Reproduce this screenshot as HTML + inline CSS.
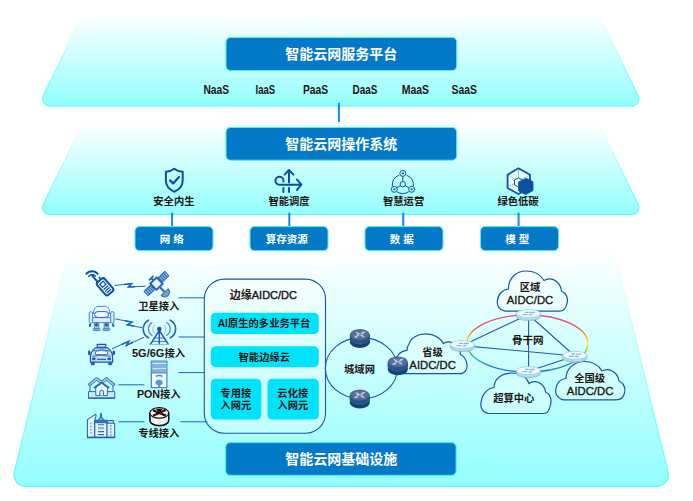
<!DOCTYPE html>
<html lang="zh"><head><meta charset="utf-8"><title>智能云网</title>
<style>
html,body{margin:0;padding:0;background:#fff;}
svg{display:block;}
text{font-family:"Liberation Sans","Noto Sans CJK SC",sans-serif;font-weight:bold;}
.t{fill:#fff;font-size:14px;text-anchor:middle;}
.l{fill:#1d1714;font-size:10.3px;text-anchor:middle;}
.s{fill:#fff;font-size:10.5px;text-anchor:middle;}
.e{fill:#1d1714;font-size:11px;text-anchor:middle;}
.c{fill:#1d1714;font-size:10.3px;text-anchor:middle;}
.a{fill:#1d1714;font-size:11.3px;text-anchor:middle;font-weight:normal;stroke:#1d1714;stroke-width:0.35px;}
</style></head><body>
<svg width="693" height="501" viewBox="0 0 693 501">
<defs>
<linearGradient id="g1" x1="0" y1="0" x2="0" y2="1"><stop offset="0" stop-color="#ffffff"/><stop offset="1" stop-color="#93fefe"/></linearGradient>
<linearGradient id="s1" x1="0" y1="0" x2="0" y2="1"><stop offset="0" stop-color="#ffffff"/><stop offset="0.5" stop-color="#a0ffff"/><stop offset="1" stop-color="#52fcfc"/></linearGradient>
<linearGradient id="rb" x1="0" y1="315" x2="0" y2="372" gradientUnits="userSpaceOnUse">
<stop offset="0" stop-color="#ef4f9f"/><stop offset="0.12" stop-color="#f5457a"/><stop offset="0.22" stop-color="#ff4a40"/><stop offset="0.33" stop-color="#ff9010"/><stop offset="0.5" stop-color="#ffee00"/><stop offset="0.6" stop-color="#a0d820"/><stop offset="0.66" stop-color="#38c058"/><stop offset="0.77" stop-color="#18b4c4"/><stop offset="0.88" stop-color="#2a80d8"/><stop offset="1" stop-color="#2a70cc"/></linearGradient>
<radialGradient id="drt" cx="0.5" cy="0.45" r="0.6"><stop offset="0" stop-color="#6e86ab"/><stop offset="1" stop-color="#465d86"/></radialGradient>
<g id="dr">
<path d="M-10 0 v7.6 a10 5.6 0 0 0 20 0 v-7.6z" fill="#19416f"/>
<path d="M-10 0 v3.4 a10 5.6 0 0 0 20 0 v-3.4z" fill="#24548a"/>
<path d="M-10 3.4 a10 5.6 0 0 0 20 0" fill="none" stroke="#41709f" stroke-width="0.6"/>
<ellipse cx="0" cy="0" rx="10" ry="5.6" fill="url(#drt)"/>
<path d="M-5 2.4 L-1.4 0.4 M1 -0.5 L4.8 -2.6 M-3.6 -2.4 L-0.8 -0.8 M1.4 0.8 L4 2.2 M-5 2.4 l2.2 -0.1 M4.8 -2.6 l-2.2 0.1 M-0.8 -0.8 l-1.5 0 M1.4 0.8 l1.5 0" stroke="#e4ebf4" stroke-width="1.1" fill="none" stroke-linecap="round" opacity="0.75"/>
</g>
<g id="lr">
<path d="M-12.1 0 v2.9 a12.1 4 0 0 0 24.2 0 v-2.9z" fill="#b4dcee" stroke="#74b6d8" stroke-width="0.7"/>
<ellipse cx="0" cy="0" rx="12.1" ry="4" fill="#f4fcff" stroke="#8cc6e2" stroke-width="0.7"/>
<path d="M-5.6 1 h4.2 M1.6 -1.1 h4.2 M-3 -1.3 h2.8 M0.6 1.2 h2.8" stroke="#7fbadc" stroke-width="1.3" fill="none" stroke-linecap="round"/>
</g>
</defs>

<path d="M83.00 14.00 L598.40 14.00 L638.11 95.74 A7 7 0 0 1 631.82 105.80 L49.58 105.80 A7 7 0 0 1 43.29 95.74 Z" fill="url(#g1)" stroke="url(#s1)" stroke-width="1.2"/>
<path d="M83.00 122.70 L598.40 122.70 L638.11 204.44 A7 7 0 0 1 631.82 214.50 L49.58 214.50 A7 7 0 0 1 43.29 204.44 Z" fill="url(#g1)" stroke="url(#s1)" stroke-width="1.2"/>
<path d="M69.10 248.00 L613.20 248.00 L668.11 472.06 A11.5 11.5 0 0 1 656.94 486.30 L25.45 486.30 A11.5 11.5 0 0 1 14.28 472.07 Z" fill="url(#g1)" stroke="url(#s1)" stroke-width="1.2"/>
<g stroke="#0a8cf0" stroke-width="2" fill="none">
<path d="M338.9 102.8V122 M172.1 212.8V226.4 M289.3 212.8V226.4 M403.2 212.8V226.4 M518.6 212.8V226.4"/>
</g>
<rect x="226" y="37.5" width="230.7" height="33" rx="4.5" fill="#0479c8" stroke="#48f0fa" stroke-width="1"/>
<text class="t" x="341.3" y="59.4">智能云网服务平台</text>
<rect x="226" y="127.5" width="230.7" height="32.7" rx="4.5" fill="#0479c8" stroke="#48f0fa" stroke-width="1"/>
<text class="t" x="341.3" y="149.2">智能云网操作系统</text>
<rect x="225.7" y="442.6" width="230.4" height="32.7" rx="4.5" fill="#0479c8" stroke="#48f0fa" stroke-width="1"/>
<text class="t" x="341.2" y="464.1">智能云网基础设施</text>
<text x="203.4" y="93.5" textLength="25.6" lengthAdjust="spacingAndGlyphs" style="fill:#1d1714;font-size:12.3px;text-anchor:start">NaaS</text>
<text x="255.6" y="93.5" textLength="19.6" lengthAdjust="spacingAndGlyphs" style="fill:#1d1714;font-size:12.3px;text-anchor:start">IaaS</text>
<text x="303" y="93.5" textLength="25.2" lengthAdjust="spacingAndGlyphs" style="fill:#1d1714;font-size:12.3px;text-anchor:start">PaaS</text>
<text x="352.6" y="93.5" textLength="24.9" lengthAdjust="spacingAndGlyphs" style="fill:#1d1714;font-size:12.3px;text-anchor:start">DaaS</text>
<text x="401.7" y="93.5" textLength="27.4" lengthAdjust="spacingAndGlyphs" style="fill:#1d1714;font-size:12.3px;text-anchor:start">MaaS</text>
<text x="451.6" y="93.5" textLength="25.4" lengthAdjust="spacingAndGlyphs" style="fill:#1d1714;font-size:12.3px;text-anchor:start">SaaS</text>
<rect x="135" y="226.6" width="78" height="24" rx="4.5" fill="#0479c8" stroke="#48f0fa" stroke-width="1"/>
<text class="s" x="171.7" y="242.5">网 络</text>
<rect x="250" y="226.6" width="78" height="24" rx="4.5" fill="#0479c8" stroke="#48f0fa" stroke-width="1"/>
<text class="s" x="286.7" y="242.5">算存资源</text>
<rect x="365" y="226.6" width="78" height="24" rx="4.5" fill="#0479c8" stroke="#48f0fa" stroke-width="1"/>
<text class="s" x="401.7" y="242.5">数 据</text>
<rect x="480.5" y="226.6" width="78" height="24" rx="4.5" fill="#0479c8" stroke="#48f0fa" stroke-width="1"/>
<text class="s" x="517.2" y="242.5">模 型</text>
<text class="l" x="173.9" y="204.8">安全内生</text>
<text class="l" x="289" y="204.8">智能调度</text>
<text class="l" x="403.6" y="204.8">智慧运营</text>
<text class="l" x="518" y="204.8">绿色低碳</text>
<g fill="none" stroke="#0d4fa3" stroke-width="2" stroke-linejoin="round" stroke-linecap="round">
<path d="M174.3 168.8 Q170.5 171.8 165.9 171.8 V180.5 Q165.9 188 174.3 191.8 Q182.7 188 182.7 180.5 V171.8 Q178.1 171.8 174.3 168.8Z"/>
<path d="M170 180.4 l3.2 3 l5.8 -6.4" stroke-width="2.2"/>
<path d="M289 182.6 V170.2 M284.6 174.6 L289 170 L293.4 174.6"/>
<path d="M297 179.6 L301.4 184.7 L297 189.9 M301 184.7 H279.5 A4 4 0 1 1 283.5 180.7 V181.6"/>
<path d="M283.4 188 V192 M289 188 V192"/>
</g>
<g fill="none" stroke="#0d4fa3" stroke-width="1">
<circle cx="402.8" cy="184.2" r="2.7"/>
<circle cx="402.8" cy="173.4" r="3"/><circle cx="394.3" cy="189.3" r="3"/><circle cx="411.6" cy="189.3" r="3"/>
<path d="M402.8 176.4 V181.5 M400.4 185.6 L396.9 187.7 M405.2 185.6 L408.7 187.7"/>
<path d="M399 175.2 A10.8 10.8 0 0 0 392.3 186 M406.6 175.2 A10.8 10.8 0 0 1 413.4 186 M397 191.8 A10.8 10.8 0 0 0 408.6 191.8"/>
</g>
<g fill="#0d4fa3"><circle cx="402.8" cy="173.4" r="1.1"/><circle cx="394.3" cy="189.3" r="1.1"/><circle cx="411.6" cy="189.3" r="1.1"/></g>
<g stroke="#0d4fa3" stroke-linejoin="round">
<path d="M518.4 168.3 L530 174.8 V188 L518.4 194 L507.6 188 V174.8Z" fill="#e6ffff" stroke-width="1.8"/>
<path d="M507.6 174.8 L518.4 181 L530 174.8" fill="none" stroke-width="0.5" opacity="0.5"/>
<path d="M518.4 170.5 V177" fill="none" stroke-width="0.8" stroke-dasharray="1 1"/>
<path d="M510 186.2 L514 184" fill="none" stroke-width="0.8" stroke-dasharray="1 1"/>
<path d="M514.5 180 L518.4 177.8 L522.4 180 V185 L518.4 187.2 L514.5 185Z" fill="#e6ffff" stroke-width="1"/>
<path d="M518.6 182 L526 178.2 L533 181.8 V190.6 L525.6 194.6 L518.6 191Z" fill="#0d4fa3" stroke-width="0.8"/>
</g>
<g stroke="#1f66b0" stroke-width="1" fill="none">
<path d="M178.5 297.8H204.5 M178.5 337H204.5 M178.5 372.6H204.5 M180.5 421.8H207.5"/>
<path d="M118.4 384.8H144.4 M118.4 421.8H144.4"/>
<path d="M114.4 285.4 L131.6 283.8 L128.4 287 L145.5 286.2"/>
<path d="M115.2 318.9 L132 322.1 L127.2 324.8 L142.3 327.7"/>
<path d="M112 348.8 L128.8 341.3 L126.4 345.3 L144 337.3"/>
<path d="M124 284.5 L131.6 283.8 L128.4 287 L135 286.7 M125 320.8 L132 322.1 L127.2 324.8 L134 326.1 M122 344.3 L128.8 341.3 L126.4 345.3 L133 342.3" stroke-width="1.5" stroke-linejoin="miter"/>
</g>
<g fill="none" stroke="#0d4fa3" stroke-linecap="round" stroke-linejoin="round">
<g transform="translate(104.9 286.6) rotate(-41)">
<rect x="-4.9" y="-8" width="9.8" height="16.6" rx="2.2" stroke-width="2" fill="#e8ffff"/>
<rect x="-2.3" y="-5.2" width="4.6" height="4.2" stroke-width="1.3"/>
<path d="M-2.5 1.4H2.5 M-2.5 3.7H2.5 M-2.5 6H2.5" stroke-width="1.2"/>
<path d="M-2.4 -8.4 V-16.4" stroke-width="2"/>
<path d="M1.8 -8.4 V-10.6" stroke-width="1.6"/>
</g>
<path d="M86.4 273.8 A7.2 7.2 0 0 1 97.6 273.8" stroke-width="2"/>
<path d="M88.9 276.3 A4.4 4.4 0 0 1 95.3 276" stroke-width="1.6"/>
</g>
<g transform="translate(156.5 283.6) rotate(-44)" stroke="#2c68b8" stroke-width="1" fill="#cfe4f6" stroke-linejoin="round">
<rect x="-14.4" y="-3" width="8.6" height="6" fill="#a8c8ea"/>
<rect x="5.8" y="-3" width="8.6" height="6" fill="#a8c8ea"/>
<path d="M-12.2 -3V3 M-10 -3V3 M-7.8 -3V3 M7.8 -3V3 M10 -3V3 M12.2 -3V3" fill="none" stroke-width="1.2"/>
<rect x="-4.4" y="-4.4" width="8.8" height="8.8" fill="#e6f6fd" stroke-width="1.9" stroke="#2460b0"/>
<path d="M-5.8 0H-4.4 M4.4 0H5.8" fill="none" stroke-width="2"/>
<path d="M0 -4.4V-7.4 M-3.2 -7.6 H3.2" stroke-width="1.7" fill="none" stroke="#2460b0"/>
<path d="M0 4.4V11.6" stroke-width="2.2" fill="none"/>
<path d="M-4.8 11.8 A4.8 4.8 0 0 0 4.8 11.8 Z" fill="#5a8fd0" stroke-width="1"/>
<path d="M-2.4 12V15.6 M0 12V16.4 M2.4 12V15.6" stroke="#cfe4f6" stroke-width="0.6" fill="none"/>
</g>
<g stroke="#4a86cc" stroke-width="1" fill="#d4ecf8" stroke-linejoin="round">
<path d="M93.4 313.5 C93.4 309 96 306.3 98 306.3 H105.2 C107.2 306.3 109.9 309 109.9 313.5 Z" fill="#e4f6fc"/>
<rect x="89.2" y="311.8" width="3.4" height="11.4" rx="1"/>
<rect x="110.6" y="311.8" width="3.4" height="11.4" rx="1"/>
<rect x="92.6" y="317.6" width="18" height="5" fill="#dceef8"/>
<rect x="94.6" y="311.6" width="14" height="5.8" rx="2.9" fill="#dcecf8" stroke="#2c68b8" stroke-width="1"/>
<rect x="98.4" y="312.6" width="6.4" height="3.8" fill="#fbffff" stroke="none"/>
<ellipse cx="96.8" cy="314.5" rx="1.1" ry="0.9" fill="#fff" stroke="none"/><ellipse cx="106.4" cy="314.5" rx="1.1" ry="0.9" fill="#fff" stroke="none"/>
<rect x="94.4" y="322.6" width="4.4" height="5.6"/><rect x="104.2" y="322.6" width="4.4" height="5.6"/>
<rect x="93.2" y="328.4" width="6.8" height="2.2" rx="0.8" fill="#7fb0e0"/><rect x="103" y="328.4" width="6.8" height="2.2" rx="0.8" fill="#7fb0e0"/>
</g>
<g fill="#1f5fb8"><circle cx="96.6" cy="324.9" r="1.8"/><circle cx="106.4" cy="324.9" r="1.8"/><path d="M89 324.2 l2 -1 v3.4 l-2 0.6z M114.2 324.2 l-2 -1 v3.4 l2 0.6z"/></g>
<g stroke="#2c68b8" stroke-width="1.1" fill="#d4ecf8" stroke-linejoin="round">
<rect x="97.2" y="344.4" width="8.6" height="3" fill="#bcdcf0" stroke="#1a56aa" stroke-width="1.2"/>
<path d="M90.4 362.2 V356.4 Q90.6 352.6 92.6 350.6 L95.2 347.8 H107.8 L110.4 350.6 Q112.4 352.6 112.6 356.4 V362.2 Z" fill="#c4e0f2" stroke="#1f5cb0" stroke-width="1.2"/>
<path d="M93.2 351 Q101.5 348.4 109.8 351" fill="none" stroke-width="0.9"/>
<path d="M96 351.2 Q101.5 349.8 107 351.2 Q108 353 107.6 354.6 H95.4 Q95 353 96 351.2Z" fill="#f8feff" stroke-width="0.9"/>
<path d="M92 356.2 Q101.5 354.6 111 356.2" fill="none" stroke-width="0.9"/>
<path d="M97 359.4 H106" fill="none" stroke-width="1.3"/>
<path d="M91 362.2 h3.6 v1.8 q0 1 -1 1 h-1.6 q-1 0 -1 -1z M108.4 362.2 h3.6 v1.8 q0 1 -1 1 h-1.6 q-1 0 -1 -1z" fill="#1f5fb8" stroke-width="0.6"/>
</g>
<g fill="#1f5cb0"><ellipse cx="89.2" cy="352.8" rx="1.3" ry="2.5"/><ellipse cx="113.8" cy="352.8" rx="1.3" ry="2.5"/><ellipse cx="93.8" cy="358.8" rx="2" ry="1.4"/><ellipse cx="109.2" cy="358.8" rx="2" ry="1.4"/></g>
<g stroke="#2c68b8" stroke-width="1" fill="#d4ecf8" stroke-linejoin="round">
<path d="M90 386V392 M113 386V392" fill="none"/>
<path d="M88.6 385.6 L96.7 378.8 L101.6 382.6 L106.5 378.8 L114.6 385.6" fill="none" stroke-width="3.2" stroke="#3a76c0"/>
<path d="M89.4 385 L96.7 378.9 L101.6 382.7 L106.5 378.9 L113.8 385" fill="none" stroke-width="1.4" stroke="#a8cdec"/>
<rect x="88.5" y="391.6" width="26.2" height="6.6" fill="#cfeaf4"/>
<path d="M88.5 398.2H114.7" stroke-width="1.6" fill="none"/>
<path d="M95.8 387.4 L101.6 383.2 L107.4 387.4 V395.6 H95.8Z" fill="#eafaff"/>
<path d="M94 388 L101.6 382.6 L109.2 388" fill="none" stroke-width="1.8"/>
<path d="M99.8 395.6 V392.2 A1.9 1.9 0 0 1 103.6 392.2 V395.6" fill="#cfeaf4"/>
</g>
<g stroke="#2c68b8" stroke-width="1.1" fill="#d4ecf8" stroke-linejoin="round">
<path d="M87.4 437.4 V419.6 L95.4 414.4 L96.2 415.6 L94.6 421 V437.4Z" fill="#dff4fa"/>
<path d="M91 423V434.5" fill="none" stroke-width="0.9" stroke-dasharray="1.4 1.6"/>
<path d="M101 413.2V418" stroke-width="1.8" fill="none" stroke="#1f5cb0"/>
<path d="M97.4 420.8 L101 416.8 L104.6 420.8Z" fill="#9cc4e6"/>
<rect x="94.8" y="420.2" width="12.2" height="2.4" fill="#3a76c0"/>
<rect x="94.8" y="422.6" width="12.2" height="14.8" fill="#e4f8fc"/>
<path d="M98 424.8H104 M98 431.6H104 M98 434.6H104" fill="none" stroke-width="1.1"/>
<rect x="98" y="426.8" width="6" height="2.6" fill="#8cb8e2" stroke="none"/>
<rect x="107.6" y="420.6" width="5.8" height="2.6" fill="#dff4fa"/>
<rect x="107" y="423.2" width="7.7" height="14.2" fill="#dff4fa"/>
<path d="M110.8 425.4V436.4" fill="none" stroke-width="1.6" stroke-dasharray="1.2 1.8"/>
<path d="M87 437.5H115" stroke-width="1.5" fill="none" stroke="#1f5cb0"/>
</g>
<g stroke="#2c68b8" fill="none" stroke-linecap="round">
<path d="M159.3 330.5 L150.4 344.3 M159.3 330.5 L168.4 344.3 M159.3 329.5V344.5" stroke-width="1.5" stroke="#1f5cb0"/>
<path d="M154.6 338H164 M152.4 341.4H166.2" stroke-width="0.9"/>
<path d="M150 344.4H168.6" stroke-width="1" stroke="#8cb8e0"/>
<circle cx="159.3" cy="329" r="2.2" fill="#0d4fa3" stroke="none"/>
<path d="M148.5 320.2 A10 10 0 0 0 148.5 337.8 M170.3 320.2 A10 10 0 0 1 170.3 337.8" stroke-width="1.7" stroke="#2c66b6"/>
<path d="M152 322.7 A7.4 7.4 0 0 0 152 335.3 M166.7 322.7 A7.4 7.4 0 0 1 166.7 335.3" stroke-width="1.4" stroke="#5a90cc"/>
<path d="M154.5 324.8 A6.4 6.4 0 0 0 154.5 333.5 M164.2 324.8 A6.4 6.4 0 0 1 164.2 333.5" stroke-width="1.2" stroke="#a4cbe8"/>
</g>
<g stroke="#2c68b8" stroke-width="1">
<rect x="151.3" y="361.1" width="15.6" height="26.6" fill="#eefbff"/>
<rect x="151.8" y="361.6" width="14.6" height="11.2" fill="#80b2e2" stroke="none"/>
<path d="M152.6 363.4H166 M152.6 368.6H166" stroke="#d8eefa" stroke-width="1" fill="none"/>
<path d="M151.3 373H166.9" fill="none" stroke-width="0.8"/>
<path d="M155.8 376.4 Q159.2 374.8 162.6 376.4" fill="none" stroke="#4a86cc" stroke-width="1.5"/>
<ellipse cx="159.1" cy="382.4" rx="3.6" ry="2.6" fill="#5a94d4" stroke="none"/>
<path d="M159.1 384V387.5" stroke="#5a94d4" stroke-width="2.2" fill="none"/>
</g>
<g stroke="#111" stroke-width="1.2">
<path d="M149.9 412.9 V420.4 A9.4 5.3 0 0 0 168.7 420.4 V412.9Z" fill="#ececec"/>
<path d="M156 417.5 V425 M162.5 417.5 V425" stroke="#fff" stroke-width="3" opacity="0.7"/>
<path d="M149.9 412.9 V420.4 A9.4 5.3 0 0 0 168.7 420.4 V412.9" fill="none"/>
<ellipse cx="159.3" cy="412.9" rx="9.4" ry="5.3" fill="#fafafa"/>
<path d="M153 410.2 L165.8 415.6 M165.6 410 L153 415.8" stroke="#111" stroke-width="2.3" fill="none"/>
<path d="M155.6 408.8 L163 408.8 L159.3 412.6Z" fill="#111" stroke="none"/>
</g>
<g fill="#e01010"><circle cx="156.6" cy="411.6" r="0.8"/><circle cx="163.2" cy="410.6" r="0.8"/><circle cx="155.2" cy="414.6" r="0.8"/><circle cx="161.2" cy="413.8" r="0.8"/></g>
<rect x="204.3" y="279.1" width="121.2" height="154.2" rx="20" fill="#ffffff" fill-opacity="0.25" stroke="#1a55a4" stroke-width="1.1"/>
<text class="e" x="263.4" y="298.6">边缘<tspan style="font-weight:normal;stroke:#1d1714;stroke-width:0.4px">AIDC/DC</tspan></text>
<rect x="210.8" y="312.8" width="108" height="21.3" rx="5" fill="#00e4fb"/>
<text class="c" x="264" y="327.4">AI原生的多业务平台</text>
<rect x="210.8" y="346.2" width="108" height="21" rx="5" fill="#00e4fb"/>
<text class="c" x="264.3" y="360.6">智能边缘云</text>
<rect x="210.8" y="378.8" width="50.5" height="40.8" rx="5" fill="#00e4fb"/>
<rect x="267.5" y="378.8" width="51.3" height="40.8" rx="5" fill="#00e4fb"/>
<text class="c" x="235.8" y="397">专用接</text><text class="c" x="235.8" y="408.8">入网元</text>
<text class="c" x="292.8" y="397">云化接</text><text class="c" x="292.8" y="408.8">入网元</text>
<text class="l" x="158.8" y="310.2">卫星接入</text>
<text class="l" x="158.5" y="357.2"><tspan style="font-size:11px">5G/6G</tspan>接入</text>
<text class="l" x="158.8" y="398.2"><tspan style="font-size:10.7px">PON</tspan>接入</text>
<text class="l" x="158.8" y="437">专线接入</text>
<ellipse cx="361.4" cy="368.2" rx="36.1" ry="30.6" fill="none" stroke="#1a55a4" stroke-width="1.1"/>
<text class="l" x="359.5" y="372.8">城域网</text>
<path d="M400 373.7 H459.7 C465 373.7 467.6 369 467 364.8 C466.5 360 463.5 356 460.3 354.3 L460 348 L450.8 342.1 C448 341.4 445 342.3 443.3 343.6 C441 338 434 333.9 426.1 333.9 C418 333.9 411 337.5 409.3 343.5 C407.6 346 406.9 348.5 406.9 350.4 C403 350.5 400 352.5 397.5 356 C394 360 394 370 400 373.7 Z" stroke="#1a55a4" stroke-width="1.2" fill="#f4ffff" fill-opacity="0.3"/>
<path d="M505 311.2 C499 310 496.5 305 497.5 300.5 C498 294 503 289.5 508.5 289 C508 279 516 271 526 271 C535 271 541 275.5 544 280.5 C550 276.5 560 280 561.5 291 C566 293 568.5 298 567 303.5 C566 308.5 563 311.2 559 311.2 Z" stroke="#1a55a4" stroke-width="1.2" fill="#f4ffff" fill-opacity="0.3"/>
<path d="M563.5 399.8 C557 398.5 554.5 393 556 388 C557 382.5 561 379 566 378.5 C566 369 574 361.5 584 361.5 C593 361.5 599 366 602 371 C608 367.5 617.5 371 619 381 C623.5 383 626 388 624.5 393 C623.5 397.5 620 399.8 616 399.8 Z" stroke="#1a55a4" stroke-width="1.2" fill="#f4ffff" fill-opacity="0.3"/>
<path d="M488.4 413.5 C482 412.5 480 406.5 481.2 402 C482 394 488 388 494 387.5 C494 379 502 373 512 373 C521 373 527 377.5 529 383.5 C534 379.5 544 382 545.6 392 C550 394 552 399 550.6 404.5 C549.6 410 547 413.5 543.5 413.5 Z" stroke="#1a55a4" stroke-width="1.2" fill="#f4ffff" fill-opacity="0.3"/>
<ellipse cx="527.4" cy="343.5" rx="60.5" ry="28.5" fill="none" stroke="url(#rb)" stroke-width="1.3"/>
<g stroke="#1a5fa8" stroke-width="1.1" fill="none"><path d="M462.6 345.6 L528.4 314.5 M462.6 345.6 L574.8 356 M528.6 314.5 L528.6 371 M528.4 314.5 L574.8 356 M528.4 371.2 L574.8 356 "/></g>
<text class="l" x="527.8" y="344.1" style="font-size:10.6px">骨干网</text>
<text class="l" x="432.5" y="356">省级</text><text class="a" x="432.6" y="369.3">AIDC/DC</text>
<text class="l" x="530" y="291.3">区域</text><text class="a" x="530" y="304.1">AIDC/DC</text>
<text class="l" x="589.6" y="381.6">全国级</text><text class="a" x="590.1" y="394.7">AIDC/DC</text>
<text class="l" x="513.8" y="402">超算中心</text>
<use href="#dr" x="359.9" y="334.7"/>
<use href="#dr" x="397.8" y="362"/>
<use href="#dr" x="359.8" y="395.2"/>
<use href="#lr" x="528.45" y="313.6"/>
<use href="#lr" x="462.5" y="344.6"/>
<use href="#lr" x="574.8" y="355.3"/>
<use href="#lr" x="528.35" y="370.6"/>
</svg></body></html>
